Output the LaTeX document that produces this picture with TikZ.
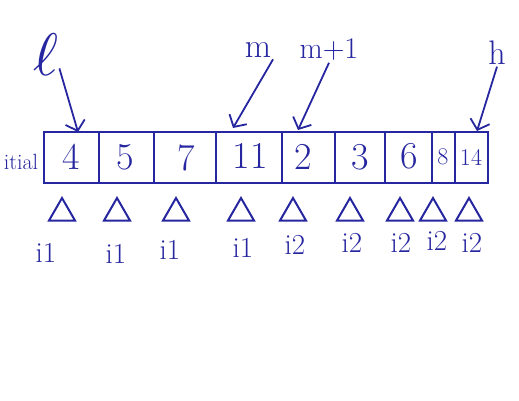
\documentclass[tikz,border=0pt]{standalone}
\usetikzlibrary{arrows.meta,shapes.geometric}
\definecolor{ink}{RGB}{38,38,160}
\begin{document}
\begin{tikzpicture}[x=1pt,y=-1pt, color=ink, line width=1.8pt,
  num/.style={font=\fontsize{38}{38}\selectfont, inner sep=0pt},
  small/.style={font=\fontsize{24}{24}\selectfont, inner sep=0pt},
  lbl/.style={font=\fontsize{34}{34}\selectfont, inner sep=1pt},
  tri/.style={draw, regular polygon, regular polygon sides=3, minimum size=30pt, inner sep=0pt, line width=2pt},
  idx/.style={font=\fontsize{29}{29}\selectfont, inner sep=0pt},
  ptr/.style={-{Straight Barb[length=9pt,width=20pt]}, line width=1.8pt}]
\useasboundingbox (0,0) rectangle (519,400);
% array box
\node[draw, anchor=north west, minimum width=444pt, minimum height=51pt, inner sep=0pt] (arr) at (43,131) {};
\node[font=\fontsize{22}{22}\selectfont, inner sep=0pt] (init) at (21,162) {itial};
% dividers
\foreach \x in {99,154,216,282,335,385,432,455}
  \draw (\x,133) -- (\x,182);
% cell values
\node[num] (c1) at (71,157) {4};
\node[num] (c2) at (125,157) {5};
\node[num] (c3) at (186,158) {7};
\node[num] (c4) at (250,156) {11};
\node[num] (c5) at (303,157) {2};
\node[num] (c6) at (360,157) {3};
\node[num] (c7) at (409,156) {6};
\node[small] (c8) at (443,157) {8};
\node[small] (c9) at (471,157) {14};
% pointer labels
\node[inner sep=0pt] (l) at (46,55) {\scalebox{6}{$\ell$}};
\node[lbl] (m) at (258,50) {m};
\node[lbl, font=\fontsize{30}{30}\selectfont] (m1) at (329,50) {m+1};
\node[lbl] (h) at (497,53) {h};
\coordinate (lt) at (78,132);
\coordinate (mt) at (233,128);
\coordinate (m1t) at (298,130);
\coordinate (ht) at (477,131);
\draw[ptr] (l.-45) -- (lt);
\draw[ptr] (m.south east) -- (mt);
\draw[ptr] (m1.south) -- (m1t);
\draw[ptr] (h.south) -- (ht);
% triangles
\foreach \x [count=\i] in {62,117,176,241,293,350,400,433,469}
  \node[tri] (t\i) at (\x,213) {};
% index labels
\foreach \x/\y/\t [count=\i] in {46/253/i1,116/254/i1,170/250/i1,243/248/i1,295/245/i2,352/243/i2,401/243/i2,437/241/i2,472/243/i2}
  \node[idx] (g\i) at (\x,\y) {\t};
\end{tikzpicture}
\end{document}
